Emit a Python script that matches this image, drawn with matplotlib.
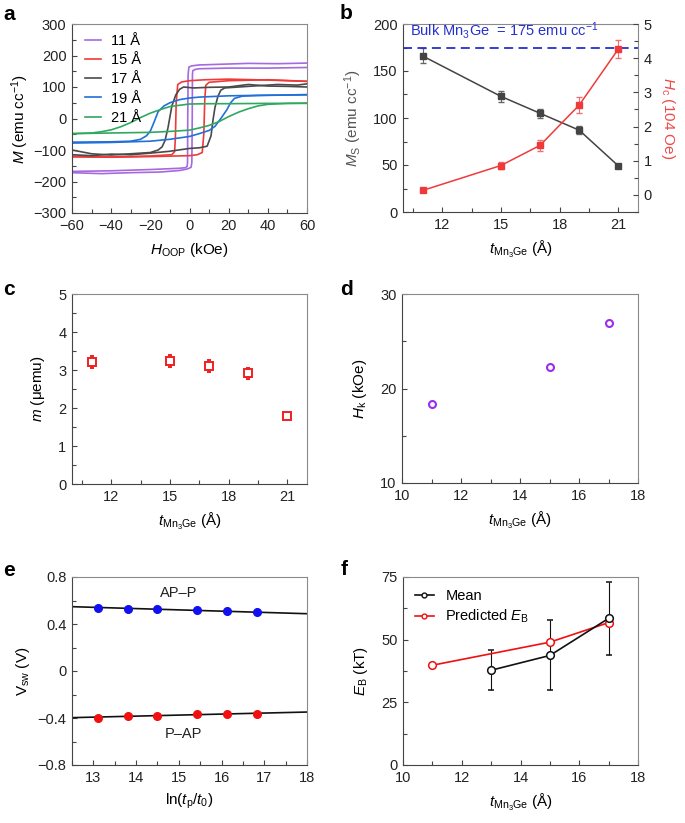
import numpy as np
import matplotlib
matplotlib.use("Agg")
import matplotlib.pyplot as plt
from matplotlib.ticker import MultipleLocator
from matplotlib.lines import Line2D

plt.rcParams['font.family'] = ['Liberation Sans', 'DejaVu Sans']
plt.rcParams['mathtext.fontset'] = 'custom'
plt.rcParams['mathtext.rm'] = 'Liberation Sans'
plt.rcParams['mathtext.it'] = 'Liberation Sans:italic'
plt.rcParams['mathtext.bf'] = 'Liberation Sans:bold'
plt.rcParams['font.size'] = 10

# ---------------- data ----------------
# Panel a: hysteresis loops (descending and ascending branches)
loop_labels = ["11 Å", "15 Å", "17 Å", "19 Å", "21 Å"]
loop_colors = ["#A569E0", "#F03A3A", "#4A4A4A", "#2070D8", "#30A860"]

h11_desc = [60, 45, 30, 15, 5, 1, -0.3, -0.7, -0.9, -1.0, -1.2, -2, -5, -20, -40, -60]
m11_desc = [176, 174, 175, 172, 170, 167, 163, 140, 0, -140, -152, -156, -158, -162, -166, -168]
h11_asc = [-60, -45, -30, -15, -5, -1, 0.8, 1.2, 1.4, 1.5, 1.7, 3, 5, 20, 40, 60]
m11_asc = [-172, -175, -172, -170, -165, -160, -155, -140, 0, 140, 152, 156, 158, 160, 160, 162]

h15_desc = [60, 40, 20, 8, 0, -4, -6, -6.8, -7.2, -7.6, -9, -20, -40, -60]
m15_desc = [118, 122, 125, 123, 120, 116, 108, 50, -60, -105, -115, -119, -122, -120]
h15_asc = [-60, -40, -20, 0, 4, 6.5, 7.3, 7.8, 8.3, 10, 20, 40, 60]
m15_asc = [-122, -123, -121, -118, -115, -108, -50, 60, 105, 115, 120, 123, 118]

h17_desc = [60, 50, 40, 30, 20, 10, 2, -3, -5, -7, -9, -10, -11, -12.5, -14, -16, -20, -30, -40, -50, -60]
m17_desc = [100, 102, 103, 108, 100, 99, 97, 100, 93, 75, 40, 5, -30, -70, -90, -100, -108, -112, -116, -112, -100]
h17_asc = [-60, -50, -40, -30, -20, -10, 0, 5, 9, 11, 12, 13, 14.5, 16, 18, 25, 35, 45, 55, 60]
m17_asc = [-115, -118, -113, -115, -110, -104, -95, -93, -88, -55, -5, 35, 70, 90, 97, 100, 104, 108, 106, 110]

h19_desc = [60, 40, 20, 5, 0, -5, -10, -13, -16, -18, -20, -22, -25, -30, -40, -60]
m19_desc = [75, 74, 72, 68, 65, 60, 50, 40, 22, -10, -40, -55, -66, -72, -74, -75]
h19_asc = [-60, -40, -20, -10, 0, 5, 10, 13, 16, 19, 21, 23, 27, 35, 45, 60]
m19_asc = [-78, -76, -72, -66, -57, -48, -38, -25, 0, 27, 50, 64, 71, 73, 74, 76]

h21_desc = [60, 40, 20, 10, 0, -10, -15, -20, -25, -30, -35, -40, -45, -50, -60]
m21_desc = [48, 48, 47, 47, 46, 38, 28, 17, 3, -13, -26, -36, -42, -46, -48]
h21_asc = [-60, -40, -20, -10, 0, 5, 10, 15, 20, 25, 30, 35, 40, 50, 60]
m21_asc = [-48, -46, -44, -41, -37, -30, -22, -10, 6, 20, 31, 40, 45, 48, 49]

# Panel b
t_b = [11, 15, 17, 19, 21]
ms_b = [166, 123, 105, 87, 49]
ms_err = [8, 6, 5, 4, 1.5]
hc_b = [0.13, 0.86, 1.45, 2.63, 4.27]
hc_err = [0.05, 0.1, 0.17, 0.24, 0.27]
bulk_ms = 175

# Panel c
t_c = [11, 15, 17, 19, 21]
m_c = [3.20, 3.24, 3.11, 2.91, 1.79]
m_err = [0.16, 0.16, 0.16, 0.15, 0.07]

# Panel d
t_d = [11, 15, 17]
hk_d = [18.4, 22.3, 26.9]

# Panel e
lnt = [13.1, 13.8, 14.5, 15.42, 16.12, 16.82]
v_ap_p = [0.540, 0.531, 0.529, 0.517, 0.509, 0.498]
v_p_ap = [-0.396, -0.382, -0.379, -0.370, -0.365, -0.362]

# Panel f
t_mean = [13, 15, 17]
eb_mean = [37.8, 43.7, 58.5]
eb_lo = [29.9, 29.9, 43.8]
eb_hi = [45.8, 57.8, 73.0]
t_pred = [11, 15, 17]
eb_pred = [39.8, 49.0, 56.8]

# ---------------- figure ----------------
W, H = 685, 823
fig = plt.figure(figsize=(W / 100, H / 100), dpi=100)


def add_ax(left, top, right, bottom):
    return fig.add_axes([left / W, 1 - bottom / H, (right - left) / W, (bottom - top) / H])


def style(ax, right_ticks=False):
    for s in ['left', 'bottom']:
        ax.spines[s].set_color('#444444')
        ax.spines[s].set_linewidth(0.8)
    for s in ['top', 'right']:
        ax.spines[s].set_color('#8a8a8a')
        ax.spines[s].set_linewidth(0.8)
    ax.tick_params(which='both', direction='in', color='#444444', labelsize=10.5,
                   labelcolor='#222222', top=False, right=right_ticks)
    ax.tick_params(which='major', length=3.5, width=0.8, pad=4)
    ax.tick_params(which='minor', length=3, width=0.8)


xlab_t = r'$t_{\mathrm{Mn}_3\mathrm{Ge}}$ (Å)'

# ---- a ----
axa = add_ax(72, 24, 307, 213)
branches = [(h11_desc, m11_desc, h11_asc, m11_asc),
            (h15_desc, m15_desc, h15_asc, m15_asc),
            (h17_desc, m17_desc, h17_asc, m17_asc),
            (h19_desc, m19_desc, h19_asc, m19_asc),
            (h21_desc, m21_desc, h21_asc, m21_asc)]
for (hd, md, ha, ma), lab, c in zip(branches, loop_labels, loop_colors):
    axa.plot(hd, md, color=c, lw=1.2, label=lab)
    axa.plot(ha, ma, color=c, lw=1.2)
axa.set_xlim(-60, 60)
axa.set_ylim(-300, 300)
axa.xaxis.set_major_locator(MultipleLocator(20))
axa.xaxis.set_minor_locator(MultipleLocator(10))
axa.yaxis.set_major_locator(MultipleLocator(100))
axa.yaxis.set_minor_locator(MultipleLocator(50))
style(axa)
axa.set_xticks(axa.get_xticks())
axa.set_xticklabels([f"{int(v)}".replace('-', '\u2212') for v in axa.get_xticks()])
axa.set_yticks(axa.get_yticks())
axa.set_yticklabels([f"{int(v)}".replace('-', '\u2212') for v in axa.get_yticks()])
axa.set_xlim(-60, 60)
axa.set_ylim(-300, 300)
axa.set_xlabel(r'$H_{\mathrm{OOP}}$ (kOe)', fontsize=11, labelpad=6)
axa.set_ylabel(r'$M$ (emu cc$^{-1}$)', fontsize=11, labelpad=2)
axa.legend(loc='upper left', frameon=False, fontsize=10.5, handlelength=1.1,
           handletextpad=0.7, labelspacing=0.35, borderaxespad=0.3, bbox_to_anchor=(0.01, 1.0))

# ---- b ----
axb = add_ax(403, 24, 638, 212)
axb.errorbar(t_b, ms_b, yerr=ms_err, color='#444444', marker='s', ms=5, lw=1.1,
             capsize=2, elinewidth=0.8, ecolor='#666666')
axb.axhline(bulk_ms, color='#2530D0', lw=1.3, ls=(0, (5, 3)))
axb.text(10.35, 182, r'Bulk Mn$_3$Ge  = 175 emu cc$^{-1}$', color='#2530D0', fontsize=10.5,
         va='bottom', ha='left')
axb.set_xlim(10, 22)
axb.set_ylim(0, 200)
axb.xaxis.set_major_locator(MultipleLocator(3))
axb.xaxis.set_minor_locator(MultipleLocator(1.5))
axb.yaxis.set_major_locator(MultipleLocator(50))
axb.yaxis.set_minor_locator(MultipleLocator(25))
style(axb)
axb.set_xlabel(xlab_t, fontsize=11, labelpad=5)
axb.set_ylabel(r'$M_{\mathrm{S}}$ (emu cc$^{-1}$)', fontsize=11, color='#555555', labelpad=6)
axb2 = axb.twinx()
axb2.errorbar(t_b, hc_b, yerr=hc_err, color='#F03A3A', marker='s', ms=5, lw=1.1,
              capsize=2, elinewidth=0.8, ecolor='#F07070')
axb2.set_ylim(-0.5, 5)
axb2.yaxis.set_major_locator(MultipleLocator(1))
axb2.yaxis.set_minor_locator(MultipleLocator(0.5))
for s in axb2.spines.values():
    s.set_visible(False)
axb2.tick_params(which='both', direction='in', color='#444444', labelsize=10.5, labelcolor='#222222')
axb2.tick_params(which='major', length=3.5, width=0.8, pad=4)
axb2.tick_params(which='minor', length=3, width=0.8)
axb2.set_ylabel(r'$H_{\mathrm{c}}$ (104 Oe)', fontsize=11, color='#F04848', rotation=-90, labelpad=18)

# ---- c ----
axc = add_ax(72, 294, 307, 484)
axc.errorbar(t_c, m_c, yerr=m_err, color='#F02020', marker='s', ms=5.5, mfc='white', mew=1.4,
             ls='none', capsize=1.5, elinewidth=0.8)
axc.set_xlim(10, 22)
axc.set_ylim(0, 5)
axc.xaxis.set_major_locator(MultipleLocator(3))
axc.xaxis.set_minor_locator(MultipleLocator(1.5))
axc.yaxis.set_major_locator(MultipleLocator(1))
axc.yaxis.set_minor_locator(MultipleLocator(0.5))
style(axc)
axc.set_xlabel(xlab_t, fontsize=11, labelpad=5)
axc.set_ylabel(r'$m$ (μemu)', fontsize=11, labelpad=8)

# ---- d ----
axd = add_ax(402, 294, 638, 483)
axd.plot(t_d, hk_d, ls='none', marker='o', ms=5, mfc='white', mec='#9B2CF0', mew=1.5)
axd.set_xlim(10, 18)
axd.set_ylim(10, 30)
axd.xaxis.set_major_locator(MultipleLocator(2))
axd.xaxis.set_minor_locator(MultipleLocator(1))
axd.yaxis.set_major_locator(MultipleLocator(10))
axd.yaxis.set_minor_locator(MultipleLocator(5))
style(axd)
axd.set_xlabel(xlab_t, fontsize=11, labelpad=5)
axd.set_ylabel(r'$H_{\mathrm{k}}$ (kOe)', fontsize=11, labelpad=8)

# ---- e ----
axe = add_ax(72, 577, 307, 765)
xfit = np.array([12.5, 18.0])
p1 = np.polyfit(lnt, v_ap_p, 1)
p2 = np.polyfit(lnt, v_p_ap, 1)
axe.plot(xfit, np.polyval(p1, xfit), color='#111111', lw=1.2)
axe.plot(xfit, np.polyval(p2, xfit), color='#111111', lw=1.2)
axe.plot(lnt, v_ap_p, ls='none', marker='o', ms=5.5, color='#1010F0')
axe.plot(lnt, v_p_ap, ls='none', marker='o', ms=5.5, color='#F01010')
axe.text(15.0, 0.66, 'AP–P', ha='center', va='center', fontsize=10.5, color='#222222')
axe.text(15.1, -0.537, 'P–AP', ha='center', va='center', fontsize=10.5, color='#222222')
axe.set_xlim(12.5, 18)
axe.set_ylim(-0.8, 0.8)
axe.xaxis.set_major_locator(MultipleLocator(1))
axe.xaxis.set_minor_locator(MultipleLocator(0.5))
axe.yaxis.set_minor_locator(MultipleLocator(0.2))
style(axe)
axe.set_yticks([-0.8, -0.4, 0, 0.4, 0.8])
axe.set_yticklabels(['\u22120.8', '\u22120.4', '0', '0.4', '0.8'])
axe.set_ylim(-0.8, 0.8)
axe.set_xlabel(r'ln($t_{\mathrm{p}}$/$t_{\mathrm{0}}$)', fontsize=11, labelpad=5)
axe.set_ylabel(r'V$_{\mathrm{sw}}$ (V)', fontsize=11, labelpad=4)

# ---- f ----
axf = add_ax(403, 577, 638, 765)
axf.errorbar(t_mean, eb_mean,
             yerr=[np.subtract(eb_mean, eb_lo), np.subtract(eb_hi, eb_mean)],
             color='#111111', marker='o', ms=5.5, mfc='white', mew=1.1, lw=1.2,
             capsize=2.5, elinewidth=0.8)
axf.plot(t_pred, eb_pred, color='#F01010', marker='o', ms=5.5, mfc='white', mew=1.1, lw=1.2)
axf.set_xlim(10, 18)
axf.set_ylim(0, 75)
axf.xaxis.set_major_locator(MultipleLocator(2))
axf.xaxis.set_minor_locator(MultipleLocator(1))
axf.yaxis.set_major_locator(MultipleLocator(25))
axf.yaxis.set_minor_locator(MultipleLocator(12.5))
style(axf)
axf.set_xlabel(xlab_t, fontsize=11, labelpad=5)
axf.set_ylabel(r'$E_{\mathrm{B}}$ (kT)', fontsize=11, labelpad=8)
leg_handles = [Line2D([], [], color='#111111', marker='o', ms=3.5, mfc='white', mew=1.0, lw=1.2),
               Line2D([], [], color='#F01010', marker='o', ms=3.5, mfc='white', mew=1.0, lw=1.2)]
axf.legend(leg_handles, ['Mean', r'Predicted $E_{\mathrm{B}}$'], loc='upper left', frameon=False,
           fontsize=10.5, handlelength=1.3, handletextpad=0.8, labelspacing=0.35,
           borderaxespad=0.4)

# panel letters
for lab, x, y in [('a', 3, 20), ('b', 340, 19), ('c', 3, 295), ('d', 340, 295),
                  ('e', 3, 576), ('f', 341, 575)]:
    fig.text(x / W, 1 - y / H, lab, fontsize=15, fontweight='bold', ha='left', va='baseline')

fig.savefig('out.png', dpi=100)
